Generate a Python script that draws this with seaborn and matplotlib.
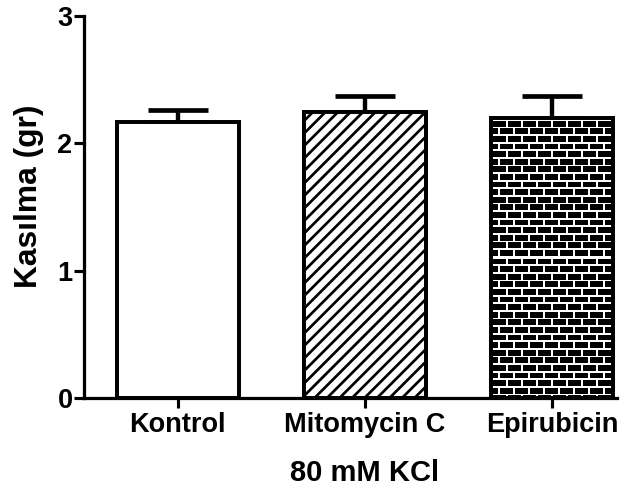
import numpy as np
import pandas as pd
import matplotlib
matplotlib.use("Agg")
import matplotlib.pyplot as plt
import seaborn as sns

# Contraction response to 80 mM KCl (mean and SEM per group)
groups = ["Kontrol", "Mitomycin C", "Epirubicin"]
means = [2.17, 2.25, 2.20]
sem = [0.09, 0.12, 0.17]
y_ticks = [0, 1, 2, 3]
y_label = "Kasılma (gr)"
x_label = "80 mM KCl"

sns.set_style("ticks", {
    "axes.edgecolor": "black",
    "xtick.color": "black",
    "ytick.color": "black",
    "text.color": "black",
    "axes.labelcolor": "black",
})
plt.rcParams["font.family"] = ["Liberation Sans", "DejaVu Sans"]
plt.rcParams["font.weight"] = "bold"
plt.rcParams["hatch.linewidth"] = 2.6

DPI = 75
W, H = 636, 493
fig = plt.figure(figsize=(W / DPI, H / DPI), dpi=DPI)
ax = fig.add_axes([84 / W, 95 / H, 533 / W, 382 / H])

df = pd.DataFrame({"group": groups, "mean": means})
sns.barplot(data=df, x="group", y="mean", color="white", saturation=1,
            edgecolor="black", linewidth=3.8, width=0.65, errorbar=None,
            ax=ax, zorder=2)

bars = ax.patches
bars[1].set_hatch("//")
bars[2].set_facecolor("none")

# upward-only SEM whiskers
ax.errorbar(range(len(groups)), means, yerr=[np.zeros(len(sem)), sem],
            fmt="none", ecolor="black", elinewidth=4.2, capsize=29,
            capthick=4.5, zorder=1)

ax.set_ylim(0, 3)
ax.set_yticks(y_ticks)
ax.set_xlim(-0.5, 2.345)
sns.despine(ax=ax)
for s in ["left", "bottom"]:
    ax.spines[s].set_linewidth(3.1)
ax.tick_params(axis="both", width=3, length=10, labelsize=26)
ax.tick_params(axis="y", pad=1)
ax.tick_params(axis="x", pad=3)
for lab in ax.get_xticklabels() + ax.get_yticklabels():
    lab.set_fontweight("bold")

ax.set_xlabel(x_label, fontsize=28, fontweight="bold")
ax.xaxis.set_label_coords(0.527, -0.16)
ax.set_ylabel(y_label, fontsize=30.5, fontweight="bold")
ax.yaxis.set_label_coords(-0.0756, 0.5275)

# brick fill for the last bar, rendered at screen resolution and clipped to it
fig.canvas.draw()
brick_bar = bars[2]
bb = brick_bar.get_window_extent()
w, h = int(round(bb.width)), int(round(bb.height))
yy, xx = np.mgrid[0:h, 0:w]
yy = yy + 0.5
xx = xx + 0.5
row_h, brick_w, mortar = 7.6, 15.0, 1.8
row = np.floor((yy - 2) / row_h)
horiz = ((yy - 2) % row_h) < mortar
vert = ((xx + (row % 2) * brick_w / 2) % brick_w) < mortar
tex = np.where(horiz | vert, 1.0, 0.0)
x0 = brick_bar.get_x()
x1 = x0 + brick_bar.get_width()
top = brick_bar.get_height()
im = ax.imshow(tex, cmap="gray", vmin=0, vmax=1, extent=(x0, x1, 0, top),
               origin="upper", interpolation="nearest", aspect="auto",
               zorder=1.5)
im.set_clip_path(brick_bar)
ax.set_ylim(0, 3)
ax.set_xlim(-0.5, 2.345)

fig.savefig("out.png", dpi=DPI)
